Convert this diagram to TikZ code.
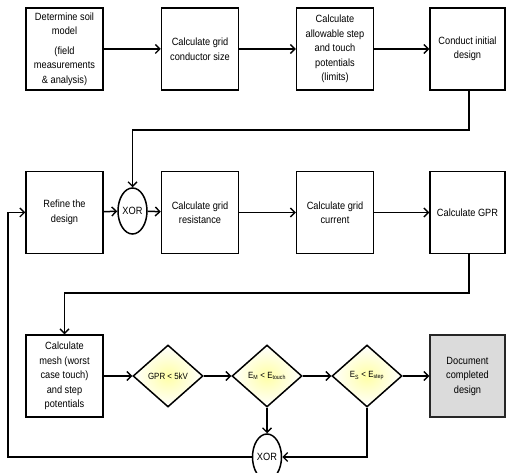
\documentclass[tikz,border=0pt]{standalone}
\usepackage{fontspec}
\setmainfont[FakeStretch=0.88]{Liberation Sans}
\usetikzlibrary{shapes.geometric,arrows.meta}
\begin{document}
\begin{tikzpicture}[x=1pt,y=-1pt,
  line width=1.5pt,
  >={Straight Barb[length=4.5pt,width=9pt,line width=1.4pt]},
  box/.style={draw, rectangle, minimum width=77pt, minimum height=82pt, align=center, inner sep=1pt,
    font=\fontsize{10.5}{14.5}\selectfont},
  dia/.style={draw, diamond, minimum width=70pt, minimum height=62pt, inner sep=0pt, aspect=1.13,
    shade, inner color=yellow!35, outer color=white, font=\fontsize{9}{10}\selectfont},
  xor/.style={draw, ellipse, minimum width=29pt, minimum height=46pt, inner sep=0pt, fill=white,
    font=\fontsize{10.5}{12}\selectfont},
  conn/.style={->}
]
\useasboundingbox (0,0) rectangle (506,473);
% row 1
\node[box] (b1) at (64.5,49) {Determine soil\\ model\\[5pt] (field\\ measurements\\ \& analysis)};
\node[box] (b2) at (200,49) {Calculate grid\\ conductor size};
\node[box] (b3) at (335,49) {Calculate\\ allowable step\\ and touch\\ potentials\\ (limits)};
\node[box, minimum width=75pt] (b4) at (467.5,49) {Conduct initial\\ design};
% row 2
\node[box] (ref) at (64.5,212.5) {Refine the\\ design};
\node[xor] (x1) at (132.5,211) {XOR};
\node[box] (res) at (200,212.5) {Calculate grid\\ resistance};
\node[box] (cur) at (335,212.5) {Calculate grid\\ current};
\node[box, minimum width=75pt] (gpr) at (467.5,212.5) {Calculate GPR};
% row 3
\node[box] (mesh) at (64.5,376) {Calculate\\ mesh (worst\\ case touch)\\ and step\\ potentials};
\node[dia] (d1) at (168,376) {GPR < 5kV};
\node[dia] (d2) at (267,376) {E\textsubscript{M} < E\textsubscript{touch}};
\node[dia] (d3) at (367,376) {E\textsubscript{S} < E\textsubscript{step}};
\node[box, minimum width=75pt, fill=gray!28, draw=black!85] (doc) at (467.5,376) {Document\\ completed\\ design};
\node[xor] (x2) at (267,457) {XOR};
\coordinate (c1) at (469,130);
\coordinate (c2) at (132.5,130);
\coordinate (c3) at (469,293);
\coordinate (c4) at (64.5,293);
\coordinate (c5) at (367,457);
\coordinate (c6) at (8,457);
\coordinate (c7) at (8,212.5);
% connectors
\draw[conn] (b1) -- (b2);
\draw[conn] (b2) -- (b3);
\draw[conn] (b3) -- (b4);
\draw[conn] (b4.south -| c1) -- (c1) -- (c2) -- (x1.north);
\draw[conn] (ref) -- (x1);
\draw[conn] (x1) -- (res);
\draw[conn] (res) -- (cur);
\draw[conn] (cur) -- (gpr);
\draw[conn] (gpr.south -| c3) -- (c3) -- (c4) -- (mesh.north);
\draw[conn] (mesh) -- (d1);
\draw[conn] (d1) -- (d2);
\draw[conn] (d2) -- (d3);
\draw[conn] (d3) -- (doc);
\draw[conn] (d2.south) -- (x2.north);
\draw[conn] (d3.south) -- (c5) -- (x2.east);
\draw[conn] (x2.west) -- (c6) -- (c7) -- (ref.west);
\end{tikzpicture}
\end{document}
